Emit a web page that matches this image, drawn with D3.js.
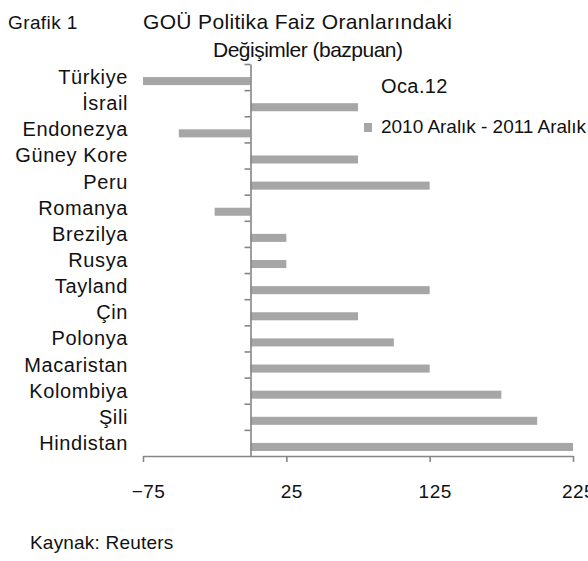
<!DOCTYPE html>
<html>
<head>
<meta charset="utf-8">
<script src="https://cdn.jsdelivr.net/npm/d3@7"></script>
<style>
  html, body { margin: 0; padding: 0; background: #fff; }
  svg { display: block; font-family: "Liberation Sans", Arial, sans-serif; }
  .axis path, .axis line { stroke: #868686; stroke-width: 1.6; }
</style>
</head>
<body>
<svg id="chart" width="588" height="561"></svg>
<script>
// Policy-rate changes in emerging markets (basis points)
const categories = ["Türkiye", "İsrail", "Endonezya", "Güney Kore", "Peru", "Romanya", "Brezilya",
  "Rusya", "Tayland", "Çin", "Polonya", "Macaristan", "Kolombiya", "Şili", "Hindistan"];
const changes = [-75, 75, -50, 75, 125, -25, 25, 25, 125, 75, 100, 125, 175, 200, 225];
const seriesNames = ["Oca.12", "2010 Aralık - 2011 Aralık"];
const xTicks = [-75, 25, 125, 225];

const barColor = "#a6a6a6";
const textColor = "#111";

const svg = d3.select("#chart");

const x = d3.scaleLinear().domain([-75, 225]).range([143, 573]);
const y = d3.scaleBand().domain(categories).range([64, 456]).padding(0);
const inner = d3.scaleBand().domain(seriesNames).range([0, y.bandwidth()])
  .paddingInner(0).paddingOuter(0.625);
// category boundaries for the left axis ticks
const yIdx = d3.scaleLinear().domain([0, categories.length]).range([64, 456]);

// bars (second series; the first series carries no visible values)
svg.append("g").selectAll("rect")
  .data(categories.map((c, i) => ({ c, v: changes[i] })))
  .join("rect")
  .attr("x", d => x(Math.min(0, d.v)))
  .attr("width", d => Math.abs(x(d.v) - x(0)))
  .attr("y", d => y(d.c) + inner(seriesNames[1]))
  .attr("height", inner.bandwidth())
  .attr("fill", barColor);

// vertical category axis at zero
svg.append("g")
  .attr("class", "axis")
  .attr("transform", `translate(${x(0)},0)`)
  .call(d3.axisLeft(yIdx).tickValues(d3.range(0, categories.length)).tickSize(6).tickSizeOuter(0).tickFormat(""));

// category labels
svg.append("g").selectAll("text")
  .data(categories)
  .join("text")
  .attr("x", 128)
  .attr("y", d => y(d) + y.bandwidth() / 2 + 7)
  .attr("text-anchor", "end")
  .attr("font-size", 20)
  .attr("letter-spacing", 0.6)
  .attr("fill", textColor)
  .text(d => d);

// value axis
const xAxis = svg.append("g")
  .attr("class", "axis")
  .attr("transform", "translate(0,456)")
  .call(d3.axisBottom(x).tickValues(xTicks).tickSize(6).tickSizeOuter(0).tickFormat(d3.format("d")));
xAxis.selectAll("text")
  .attr("y", 42).attr("dy", 0).attr("dx", 5)
  .attr("font-size", 19)
  .attr("letter-spacing", 0.5)
  .attr("fill", textColor)
  .attr("font-family", "Liberation Sans, Arial, sans-serif");

// titles
svg.append("text")
  .attr("x", 8).attr("y", 29)
  .attr("font-size", 19).attr("letter-spacing", 0.4)
  .attr("fill", textColor)
  .text("Grafik 1");

svg.append("text")
  .attr("x", 143).attr("y", 29)
  .attr("font-size", 21)
  .attr("textLength", 309).attr("lengthAdjust", "spacing")
  .attr("fill", textColor)
  .text("GOÜ Politika Faiz Oranlarındaki");

svg.append("text")
  .attr("x", 213).attr("y", 57)
  .attr("font-size", 21)
  .attr("textLength", 190).attr("lengthAdjust", "spacing")
  .attr("fill", textColor)
  .text("Değişimler (bazpuan)");

// legend
svg.append("text")
  .attr("x", 381).attr("y", 93)
  .attr("font-size", 20).attr("letter-spacing", 0.4)
  .attr("fill", textColor)
  .text(seriesNames[0]);

svg.append("rect")
  .attr("x", 364).attr("y", 123)
  .attr("width", 8).attr("height", 9)
  .attr("fill", barColor);

svg.append("text")
  .attr("x", 381).attr("y", 133)
  .attr("font-size", 19)
  .attr("textLength", 205).attr("lengthAdjust", "spacing")
  .attr("fill", textColor)
  .text(seriesNames[1]);

// source
svg.append("text")
  .attr("x", 30).attr("y", 549)
  .attr("font-size", 19).attr("letter-spacing", 0.2)
  .attr("fill", textColor)
  .text("Kaynak: Reuters");
</script>
</body>
</html>
